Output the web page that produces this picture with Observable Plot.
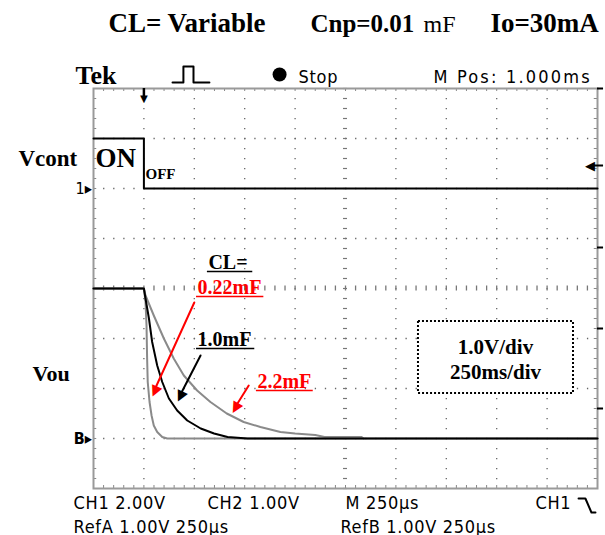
<!DOCTYPE html>
<html>
<head>
<meta charset="utf-8">
<script src="https://cdn.jsdelivr.net/npm/d3@7"></script>
<script src="https://cdn.jsdelivr.net/npm/@observablehq/plot@0.6"></script>
<style>
  html, body { margin: 0; padding: 0; background: #fff; }
  #chart svg { display: block; overflow: visible; }
</style>
</head>
<body>
<div id="chart"></div>
<script>
// ---- data (time in µs from left screen edge, voltage in V) ----
const vcontT = [0, 250, 250, 2500];
const vcontV = [2, 2, 0, 0];

const t022 = [0, 250, 258, 263, 266, 269, 278, 288, 299, 316, 341, 366, 2500];
const v022 = [3, 3, 2.73, 2.26, 1.6, 1.13, 0.73, 0.46, 0.26, 0.13, 0.03, 0, 0];

const t10 = [0, 250, 258, 275, 291, 316, 341, 374, 415, 465, 532, 598, 665, 764, 2500];
const v10 = [3, 3, 2.8, 2.4, 1.93, 1.46, 1.13, 0.8, 0.56, 0.36, 0.2, 0.1, 0.03, 0, 0];

const t22 = [0, 250, 258, 299, 349, 398, 448, 514, 580, 661, 745, 828, 927, 1000, 1100, 1146, 1330, 1340];
const v22 = [3, 3, 2.86, 2.46, 2.0, 1.6, 1.26, 0.96, 0.73, 0.5, 0.33, 0.23, 0.13, 0.1, 0.07, 0.03, 0.03, 0];

const seriesLabels = ["0.22mF", "1.0mF", "2.2mF"];
const titleParts = ["CL= Variable", "Cnp=0.01", "mF", "Io=30mA"];
const footer1 = ["CH1 2.00V", "CH2 1.00V", "M 250µs", "CH1"];
const footer2 = ["RefA 1.00V 250µs", "RefB 1.00V 250µs"];
const scaleText = ["1.0V/div", "250ms/div"];

// ---- build tables ----
const zip = (t, v) => t.map((x, i) => ({t: x, v: v[i]}));
const vcont = zip(vcontT, vcontV);
const c022 = zip(t022, v022);
const c10 = zip(t10, v10);
const c22 = zip(t22, v22);

const divT = d3.range(1, 10).map(k => k * 250);      // vertical graticule
const divY = d3.range(1, 8);                          // horizontal graticule
const minorT = d3.range(0, 51).map(k => k * 50);      // 1/5 div
const minorY = d3.range(0, 41).map(k => k * 0.2);

const serif = "Liberation Serif, Times New Roman, serif";
const narrow = "Liberation Sans Narrow, DejaVu Sans Condensed, sans-serif";
const one = [0];
const T = (txt, o) => Plot.text([txt], {text: d => d, ...o});
const lbl = {textAnchor: "start", lineAnchor: "bottom", fontFamily: serif, fontWeight: "bold", fill: "#000"};
const tek = {textAnchor: "start", lineAnchor: "bottom", fontFamily: narrow, fontSize: 18, fill: "#000"};
const head = {fontSize: 19, lineAnchor: "middle"};

const plot = Plot.plot({
  width: 605,
  height: 535,
  marginLeft: 93,
  marginRight: 8,
  marginTop: 88,
  marginBottom: 47,
  x: {domain: [0, 2500], axis: null},
  y: {domain: [0, 8], axis: null},
  style: {background: "#fff", overflow: "visible"},
  marks: [
    // graticule
    Plot.ruleX(divT.filter(d => d !== 1250), {stroke: "#666", strokeWidth: 1.3, strokeDasharray: "1.3,8.7"}),
    Plot.ruleY(divY.filter(d => d !== 4), {stroke: "#666", strokeWidth: 1.3, strokeDasharray: "1.3,8.78"}),
    // centre lines with minor ticks
    Plot.ruleY(minorY, {y: d => d, x1: 1240, x2: 1260, stroke: "#777", strokeWidth: 1.2}),
    Plot.ruleX(minorT, {x: d => d, y1: 3.95, y2: 4.05, stroke: "#777", strokeWidth: 1.3}),
    // edge ticks
    Plot.ruleY(minorY, {y: d => d, x1: 0, x2: 16, stroke: "#888", strokeWidth: 1}),
    Plot.ruleY(minorY, {y: d => d, x1: 2484, x2: 2500, stroke: "#888", strokeWidth: 1}),
    Plot.ruleX(minorT, {x: d => d, y1: 7.94, y2: 8, stroke: "#888", strokeWidth: 1}),
    Plot.ruleX(minorT, {x: d => d, y1: 0, y2: 0.06, stroke: "#888", strokeWidth: 1}),
    Plot.frame({stroke: "#9a9a9a", strokeWidth: 2}),

    // traces (Vou: ground at 1 div, 1 V/div; Vcont: ground at 6 div, 2 V/div)
    Plot.line(c022, {x: "t", y: d => 1 + d.v, stroke: "#8a8a8a", strokeWidth: 2}),
    Plot.line(c22, {x: "t", y: d => 1 + d.v, stroke: "#8a8a8a", strokeWidth: 2}),
    Plot.line(c10, {x: "t", y: d => 1 + d.v, stroke: "#000", strokeWidth: 2}),
    Plot.line(vcont, {x: "t", y: d => 6 + d.v / 2, stroke: "#000", strokeWidth: 2}),

    // markers
    Plot.ruleX(one, {x: 250, y1: 8.0, y2: 7.84, stroke: "#000", strokeWidth: 2.5}),
    T("▼", {x: 250, y: 7.8, fontSize: 13, fill: "#000"}),
    T("1▸", {x: -8, y: 6, textAnchor: "end", fontSize: 16, fontFamily: narrow, fill: "#000"}),
    T("B▸", {x: -8, y: 1, textAnchor: "end", fontSize: 16, fontWeight: "bold", fontFamily: narrow, fill: "#000"}),
    T("◀", {x: 2463, y: 6.46, fontSize: 13, fill: "#000"}),
    Plot.ruleY(one, {y: 6.46, x1: 2470, x2: 2530, stroke: "#000", strokeWidth: 2}),
    Plot.ruleY([8, 4.82, 3.2, 1.6], {y: d => d, x1: 2500, x2: 2530, stroke: "#000", strokeWidth: 2}),

    // labels on screen
    T("Vcont", {...lbl, x: -372, y: 6.46, fontSize: 23}),
    T("Vou", {...lbl, x: -302, y: 2.16, fontSize: 22}),
    T("ON", {...lbl, x: 10, y: 6.44, fontSize: 27}),
    T("OFF", {...lbl, x: 258, y: 6.2, fontSize: 15}),

    T("CL=", {...lbl, x: 570, y: 4.4, fontSize: 20}),
    T(seriesLabels[0], {...lbl, x: 516, y: 3.9, fontSize: 20, fill: "#f00"}),
    T(seriesLabels[1], {...lbl, x: 516, y: 2.86, fontSize: 20}),
    T(seriesLabels[2], {...lbl, x: 813, y: 2.02, fontSize: 20, fill: "#f00"}),
    // underlines
    Plot.ruleY(one, {y: 4.34, x1: 565, x2: 790, stroke: "#000", strokeWidth: 1.5}),
    Plot.ruleY(one, {y: 3.84, x1: 511, x2: 845, stroke: "#f00", strokeWidth: 1.5}),
    Plot.ruleY(one, {y: 2.80, x1: 511, x2: 800, stroke: "#000", strokeWidth: 1.5}),
    Plot.ruleY(one, {y: 1.96, x1: 808, x2: 1090, stroke: "#f00", strokeWidth: 1.5}),

    // arrows (shaft + filled head)
    Plot.arrow(one, {x1: 500, y1: 3.72, x2: 306, y2: 2.0, stroke: "#f00", strokeWidth: 2, headLength: 0}),
    T("▲", {...head, x: 304, y: 1.93, rotate: 204, fill: "#f00"}),
    Plot.arrow(one, {x1: 531, y1: 2.66, x2: 434, y2: 1.9, stroke: "#000", strokeWidth: 2, headLength: 0}),
    T("▲", {...head, x: 430, y: 1.83, rotate: 206, fill: "#000"}),
    Plot.arrow(one, {x1: 770, y1: 2.06, x2: 708, y2: 1.66, stroke: "#f00", strokeWidth: 2, headLength: 0}),
    T("▲", {...head, x: 704, y: 1.60, rotate: 210, fill: "#f00"}),

    // scale box
    Plot.rect(one, {x1: 1612, x2: 2381, y1: 1.9, y2: 3.34, fill: "#fff", stroke: "#000", strokeWidth: 2, strokeDasharray: "2,2"}),
    T(scaleText[0], {...lbl, textAnchor: "middle", x: 1994, y: 2.7, fontSize: 21}),
    T(scaleText[1], {...lbl, textAnchor: "middle", x: 1994, y: 2.2, fontSize: 21}),

    // header (above screen)
    T(titleParts[0], {...lbl, x: 74, y: 9.14, fontSize: 27}),
    T(titleParts[1], {...lbl, x: 1076, y: 9.14, fontSize: 25}),
    T(titleParts[2], {...lbl, x: 1637, y: 9.14, fontSize: 24, fontWeight: "normal"}),
    T(titleParts[3], {...lbl, x: 1969, y: 9.14, fontSize: 27}),
    T("Tek", {...lbl, x: -89, y: 8.1, fontSize: 26}),
    Plot.line([[392, 8.12], [446, 8.12], [446, 8.44], [496, 8.44], [496, 8.12], [575, 8.12]], {stroke: "#000", strokeWidth: 2}),
    Plot.dot(one, {x: 923, y: 8.28, r: 7, fill: "#000"}),
    T("Stop", {...tek, x: 1017, y: 8.12}),
    T("M Pos: 1.000ms", {...tek, x: 1686, y: 8.12}),

    // footer (below screen)
    T(footer1[0], {...tek, x: -99, y: -0.4}),
    T(footer1[1], {...tek, x: 565, y: -0.4}),
    T(footer1[2], {...tek, x: 1250, y: -0.4}),
    T(footer1[3], {...tek, x: 2192, y: -0.4}),
    Plot.line([[2406, -0.2], [2440, -0.2], [2470, -0.48], [2490, -0.48]], {stroke: "#000", strokeWidth: 2}),
    T(footer2[0], {...tek, x: -99, y: -0.88}),
    T(footer2[1], {...tek, x: 1225, y: -0.88})
  ]
});

// wider tracking for the oscilloscope's own readouts
const spaced = new Set(["Stop", ...footer1, ...footer2]);
d3.select(plot).selectAll("text")
  .filter(function() { return spaced.has(this.textContent); })
  .style("letter-spacing", "0.7px");
d3.select(plot).selectAll("text")
  .filter(function() { return this.textContent === "M Pos: 1.000ms"; })
  .style("letter-spacing", "2.2px");
document.getElementById("chart").appendChild(plot);
</script>
</body>
</html>
